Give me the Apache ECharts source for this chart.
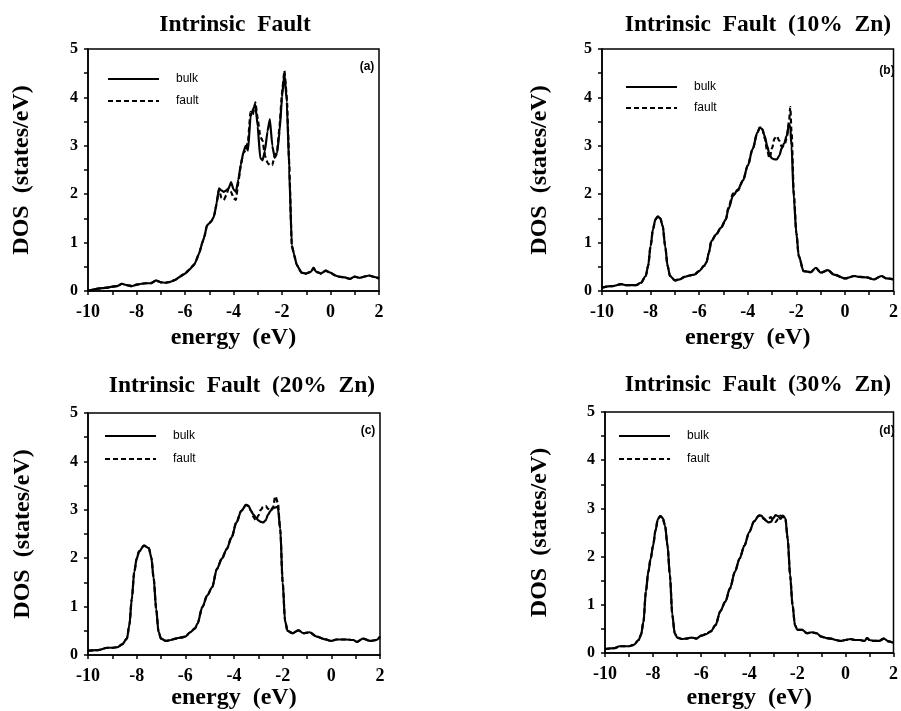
<!DOCTYPE html>
<html>
<head>
<meta charset="utf-8">
<script src="https://cdn.jsdelivr.net/npm/echarts@6/dist/echarts.min.js"></script>
<style>
html,body{margin:0;padding:0;background:#fff;}
#chart{width:901px;height:711px;}
</style>
</head>
<body>
<div id="chart"></div>
<script>
// ---------- data ----------
const panelTitles = ['Intrinsic  Fault', 'Intrinsic  Fault  (10%  Zn)', 'Intrinsic  Fault  (20%  Zn)', 'Intrinsic  Fault  (30%  Zn)'];
const panelLabels = ['(a)', '(b)', '(c)', '(d)'];
const seriesNames = ['bulk', 'fault'];
const xTickValues = [-10, -8, -6, -4, -2, 0, 2];
const yTickValues = [0, 1, 2, 3, 4, 5];

const energyA = [-10,-9.8,-9.6,-9.4,-9.2, -9.0,-8.8,-8.6,-8.4,-8.2, -8.0,-7.8,-7.6,-7.4,-7.2, -7.0,-6.8,-6.6,-6.4,-6.2, -6.0,-5.8,-5.6,-5.4,-5.3, -5.2,-5.1,-5.0,-4.9,-4.8, -4.7,-4.6,-4.5,-4.4,-4.3, -4.2,-4.1,-4.0,-3.9,-3.8, -3.7,-3.6,-3.5,-3.4,-3.3, -3.2,-3.1,-3.0,-2.9,-2.8, -2.7,-2.6,-2.5,-2.4,-2.3, -2.2,-2.1,-2.0,-1.9,-1.8, -1.7,-1.6,-1.5,-1.4,-1.2, -1.0,-0.8,-0.7,-0.6,-0.4, -0.2,0,0.2,0.4,0.6, 0.8,1.0,1.2,1.4,1.6, 1.8,2.0];
const bulkA = [0,0.03,0.05,0.06,0.07, 0.09,0.1,0.15,0.12,0.1, 0.13,0.15,0.16,0.16,0.22, 0.18,0.17,0.19,0.23,0.3, 0.36,0.45,0.56,0.8,0.98, 1.12,1.35,1.4,1.45,1.55, 1.8,2.12,2.08,2.05,2.08, 2.12,2.25,2.1,2.05,2.3, 2.6,2.85,3.0,2.9,3.6, 3.75,3.85,3.4,2.75,2.7, 2.9,3.3,3.55,3.0,2.75, 2.85,3.3,4.0,4.5,3.9, 2.5,0.95,0.75,0.55,0.38, 0.36,0.4,0.48,0.4,0.36, 0.42,0.38,0.32,0.29,0.28, 0.25,0.3,0.27,0.3,0.32, 0.29,0.26];
const faultA = [0,0.03,0.05,0.06,0.07, 0.09,0.1,0.15,0.12,0.1, 0.13,0.15,0.16,0.16,0.22, 0.18,0.17,0.19,0.23,0.3, 0.36,0.45,0.56,0.8,0.98, 1.12,1.35,1.4,1.45,1.55, 1.8,2.1,1.92,1.88,1.98, 2.12,2.05,1.92,1.88,2.25, 2.6,2.85,2.9,3.1,3.7, 3.65,3.9,3.55,3.2,3.1, 2.8,2.65,2.6,2.6,2.8, 2.9,3.4,4.1,4.55,4.0, 2.6,0.95,0.75,0.55,0.38, 0.36,0.4,0.48,0.4,0.36, 0.42,0.38,0.32,0.29,0.28, 0.25,0.3,0.27,0.3,0.32, 0.29,0.26];

const energyB = [-10,-9.6,-9.2,-9.0,-8.6, -8.4,-8.2,-8.1,-8.0,-7.9, -7.8,-7.7,-7.6,-7.5,-7.4, -7.3,-7.2,-7.0,-6.8,-6.6, -6.4,-6.2,-6.0,-5.8,-5.7, -5.6,-5.5,-5.3,-5.1,-4.9, -4.8,-4.6,-4.4,-4.2,-4.0, -3.8,-3.6,-3.5,-3.4,-3.3, -3.2,-3.1,-3.0,-2.9,-2.8, -2.7,-2.6,-2.5,-2.4,-2.3, -2.25,-2.2,-2.1,-2.0,-1.9, -1.7,-1.4,-1.2,-1.0,-0.7, -0.45,0,0.4,0.6,0.9, 1.2,1.5,1.7,2.0];
const bulkB = [0.07,0.1,0.14,0.12,0.12, 0.17,0.31,0.52,0.93,1.28, 1.48,1.54,1.5,1.34,0.93, 0.52,0.31,0.22,0.24,0.29, 0.32,0.34,0.41,0.52,0.59, 0.79,1.03,1.17,1.31,1.48, 1.69,1.97,2.1,2.28,2.59, 2.93,3.28,3.38,3.34,3.2, 3.0,2.8,2.74,2.72,2.72, 2.8,2.95,3.05,3.2,3.45, 3.4,3.0,1.9,1.2,0.72, 0.41,0.39,0.48,0.38,0.43, 0.34,0.26,0.31,0.29,0.28, 0.24,0.31,0.26,0.24];
const faultB = [0.07,0.1,0.14,0.12,0.12, 0.17,0.31,0.52,0.93,1.28, 1.48,1.54,1.5,1.34,0.93, 0.52,0.31,0.22,0.24,0.29, 0.32,0.34,0.41,0.52,0.59, 0.79,1.03,1.17,1.31,1.48, 1.72,2.02,2.08,2.28,2.59, 2.93,3.28,3.38,3.34,3.15, 2.9,2.74,2.95,3.15,3.2, 3.1,2.98,3.0,3.15,3.5, 3.8,3.3,2.0,1.2,0.72, 0.41,0.39,0.48,0.38,0.43, 0.34,0.26,0.31,0.29,0.28, 0.24,0.31,0.26,0.24];

const energyC = [-10,-9.6,-9.2,-9.0,-8.8, -8.6,-8.4,-8.3,-8.2,-8.1, -8.0,-7.9,-7.7,-7.5,-7.4, -7.3,-7.2,-7.1,-7.0,-6.8, -6.6,-6.4,-6.2,-6.0,-5.8, -5.6,-5.5,-5.3,-5.1,-4.9, -4.7,-4.5,-4.3,-4.1,-3.9, -3.7,-3.5,-3.4,-3.3,-3.2, -3.1,-3.0,-2.9,-2.8,-2.7, -2.6,-2.5,-2.4,-2.3,-2.2, -2.1,-2.0,-1.9,-1.8,-1.6, -1.35,-1.15,-0.9,-0.6,-0.3, 0,0.2,0.6,0.9,1.05, 1.3,1.6,1.85,2.0];
const bulkC = [0.09,0.1,0.15,0.15,0.16, 0.22,0.34,0.62,1.16,1.71, 1.99,2.14,2.26,2.21,2.02, 1.58,0.96,0.48,0.34,0.29, 0.31,0.34,0.36,0.38,0.47, 0.55,0.65,0.99,1.23,1.4, 1.78,1.99,2.19,2.43,2.74, 2.98,3.1,3.08,2.98,2.9, 2.84,2.78,2.75,2.74,2.78, 2.9,2.98,3.03,3.05,3.06, 2.6,1.5,0.7,0.5,0.45, 0.51,0.45,0.47,0.38,0.33, 0.29,0.32,0.32,0.31,0.27, 0.34,0.29,0.31,0.38];
const faultC = [0.09,0.1,0.15,0.15,0.16, 0.22,0.34,0.62,1.16,1.71, 1.99,2.14,2.26,2.21,2.02, 1.58,0.96,0.48,0.34,0.29, 0.31,0.34,0.36,0.38,0.47, 0.55,0.65,0.99,1.23,1.4, 1.78,1.99,2.19,2.43,2.74, 2.98,3.1,3.08,2.98,2.85, 2.78,2.88,3.0,3.06,3.08, 3.02,2.98,3.05,3.28,3.15, 2.6,1.5,0.7,0.5,0.45, 0.51,0.45,0.47,0.38,0.33, 0.29,0.32,0.32,0.31,0.27, 0.34,0.29,0.31,0.38];

const energyD = [-10,-9.6,-9.4,-9.0,-8.8, -8.6,-8.5,-8.4,-8.3,-8.2, -8.1,-8.0,-7.9,-7.8,-7.7, -7.6,-7.5,-7.4,-7.3,-7.2, -7.1,-7.0,-6.8,-6.6,-6.4, -6.2,-6.0,-5.8,-5.6,-5.4, -5.2,-5.0,-4.8,-4.6,-4.4, -4.2,-4.0,-3.8,-3.6,-3.5, -3.4,-3.3,-3.2,-3.1,-3.0, -2.9,-2.8,-2.7,-2.6,-2.5, -2.4,-2.3,-2.2,-2.1,-2.0, -1.8,-1.6,-1.4,-1.2,-1.0, -0.8,-0.6,-0.4,-0.2,0, 0.2,0.4,0.6,0.8,0.9, 1.0,1.2,1.4,1.6,1.8, 2.0];
const bulkD = [0.08,0.1,0.14,0.14,0.17, 0.27,0.38,0.65,1.27,1.68, 1.96,2.23,2.54,2.78,2.84, 2.8,2.64,2.23,1.61,0.79, 0.41,0.32,0.29,0.3,0.32, 0.3,0.36,0.39,0.45,0.58, 0.87,1.06,1.34,1.68,1.96, 2.23,2.51,2.73,2.85,2.85, 2.8,2.74,2.71,2.72,2.8, 2.86,2.84,2.78,2.85,2.8, 2.37,1.61,1.0,0.58,0.48, 0.48,0.41,0.43,0.41,0.34, 0.31,0.3,0.27,0.25,0.27, 0.29,0.27,0.27,0.25,0.31, 0.27,0.25,0.25,0.3,0.24, 0.21];
const faultD = [0.08,0.1,0.14,0.14,0.17, 0.27,0.38,0.65,1.27,1.68, 1.96,2.23,2.54,2.78,2.84, 2.8,2.64,2.23,1.61,0.79, 0.41,0.32,0.29,0.3,0.32, 0.3,0.36,0.39,0.45,0.58, 0.87,1.06,1.34,1.68,1.96, 2.23,2.51,2.73,2.85,2.85, 2.78,2.76,2.78,2.82,2.76, 2.72,2.78,2.85,2.82,2.8, 2.37,1.61,1.0,0.58,0.48, 0.48,0.41,0.43,0.41,0.34, 0.31,0.3,0.27,0.25,0.27, 0.29,0.27,0.27,0.25,0.31, 0.27,0.25,0.25,0.3,0.24, 0.21];

// ---------- layout ----------
const panels = [
  {e: energyA, bulk: bulkA, fault: faultA, grid: {left: 88, top: 49, width: 291, height: 242}, title: [230, 8], label: [362, 56], legend: [102, 68, 10], yGap: 54, xGap: 35, smooth: 0.1},
  {e: energyB, bulk: bulkB, fault: faultB, grid: {left: 602, top: 49, width: 295, height: 242}, title: [753, 8], label: [882, 60], legend: [620, 76, 9], yGap: 50, xGap: 35, smooth: 0.3},
  {e: energyC, bulk: bulkC, fault: faultC, grid: {left: 88, top: 413, width: 292, height: 244}, title: [237, 369], label: [363, 420], legend: [99, 425, 11], yGap: 53, xGap: 31, smooth: 0.3},
  {e: energyD, bulk: bulkD, fault: faultD, grid: {left: 605, top: 412, width: 292, height: 243}, title: [753, 368], label: [882, 420], legend: [613, 425, 11], yGap: 53, xGap: 33, smooth: 0.3}
];

const serif = 'Liberation Serif';
const sans = 'Liberation Sans';
const black = '#000';

const option = {
  backgroundColor: '#fff',
  animation: false,
  title: [],
  legend: [],
  grid: [],
  xAxis: [],
  yAxis: [],
  series: []
};

panels.forEach((p, i) => {
  option.title.push({
    text: panelTitles[i], left: p.title[0], top: p.title[1], textAlign: 'center',
    textStyle: {fontFamily: serif, fontWeight: 'bold', fontSize: 23.5, color: black}
  });
  option.title.push({
    text: panelLabels[i], left: p.label[0], top: p.label[1], textAlign: 'center',
    textStyle: {fontFamily: sans, fontWeight: 'bold', fontSize: 12, color: black}
  });
  option.legend.push({
    data: seriesNames, orient: 'vertical', left: p.legend[0], top: p.legend[1],
    itemGap: p.legend[2], itemWidth: 51, itemHeight: 14,
    itemStyle: {opacity: 0},
    textStyle: {fontFamily: sans, fontSize: 12, color: black, padding: [0, 0, 0, 12]},
    selectedMode: false
  });
  option.grid.push(Object.assign({show: true, borderColor: black, borderWidth: 1.5, backgroundColor: 'transparent'}, p.grid));
  option.xAxis.push({
    type: 'value', gridIndex: i, min: -10, max: 2, interval: 1,
    name: 'energy  (eV)', nameLocation: 'middle', nameGap: p.xGap,
    nameTextStyle: {fontFamily: serif, fontWeight: 'bold', fontSize: 24, color: black},
    axisLine: {show: true, onZero: false, lineStyle: {color: black, width: 1.5}},
    axisTick: {show: true, inside: false, length: 4, lineStyle: {color: black, width: 1.5}},
    splitLine: {show: false},
    axisLabel: {
      margin: 12, color: black, fontFamily: serif, fontWeight: 'bold', fontSize: 18,
      formatter: v => xTickValues.indexOf(v) >= 0 ? String(v) : ''
    }
  });
  option.yAxis.push({
    type: 'value', gridIndex: i, min: 0, max: 5, interval: 0.5,
    name: 'DOS  (states/eV)', nameLocation: 'middle', nameGap: p.yGap, nameRotate: 90,
    nameTextStyle: {fontFamily: serif, fontWeight: 'bold', fontSize: 24, color: black},
    axisLine: {show: true, onZero: false, lineStyle: {color: black, width: 1.5}},
    axisTick: {show: true, inside: false, length: 4, lineStyle: {color: black, width: 1.5}},
    splitLine: {show: false},
    axisLabel: {
      margin: 10, color: black, fontFamily: serif, fontWeight: 'bold', fontSize: 16,
      formatter: v => yTickValues.indexOf(v) >= 0 ? String(v) : ''
    }
  });
  option.series.push({
    name: 'bulk', type: 'line', xAxisIndex: i, yAxisIndex: i, symbol: 'none',
    smooth: p.smooth, smoothMonotone: 'x',
    lineStyle: {color: black, width: 2.2, type: 'solid'},
    itemStyle: {color: black},
    data: p.e.map((x, k) => [x, p.bulk[k]])
  });
  option.series.push({
    name: 'fault', type: 'line', xAxisIndex: i, yAxisIndex: i, symbol: 'none',
    smooth: p.smooth, smoothMonotone: 'x',
    lineStyle: {color: black, width: 2.2, type: [5, 3]},
    itemStyle: {color: black},
    data: p.e.map((x, k) => [x, p.fault[k]])
  });
});

const chart = echarts.init(document.getElementById('chart'), null, {renderer: 'canvas'});
chart.setOption(option);
</script>
</body>
</html>
